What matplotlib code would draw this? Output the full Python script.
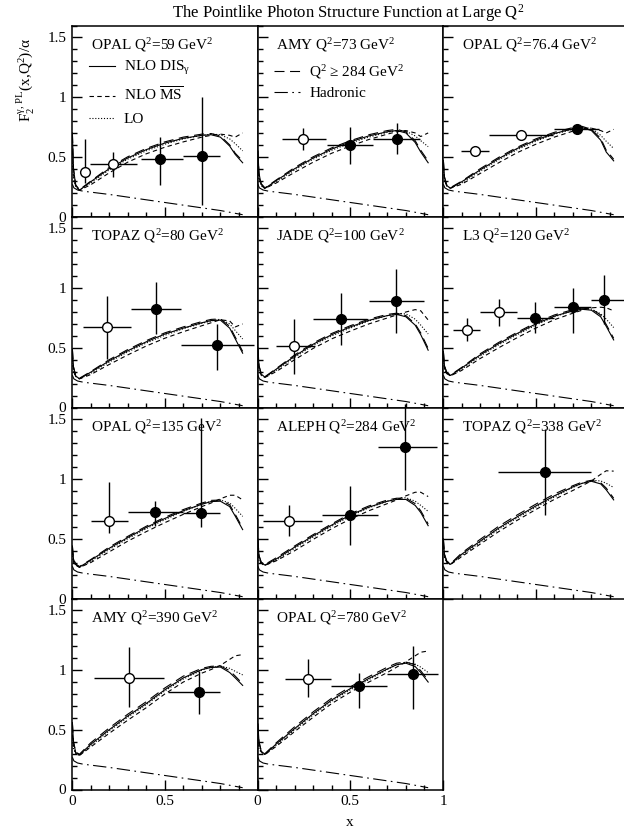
import matplotlib
matplotlib.use("Agg")
import matplotlib.pyplot as plt
from matplotlib.ticker import MultipleLocator, FuncFormatter
from matplotlib.lines import Line2D

plt.rcParams['font.family'] = ['Liberation Serif', 'DejaVu Serif']
plt.rcParams['mathtext.fontset'] = 'custom'
plt.rcParams['mathtext.rm'] = 'Liberation Serif'
plt.rcParams['mathtext.it'] = 'Liberation Serif:italic'
plt.rcParams['mathtext.bf'] = 'Liberation Serif:bold'
plt.rcParams['mathtext.default'] = 'regular'
plt.rcParams['font.size'] = 11

# panel labels
TITLES = ["OPAL Q$^2$=59 GeV$^2$", "AMY Q$^2$=73 GeV$^2$", "OPAL Q$^2$=76.4 GeV$^2$",
          "TOPAZ Q$^2$=80 GeV$^2$", "JADE Q$^2$=100 GeV$^2$", "L3 Q$^2$=120 GeV$^2$",
          "OPAL Q$^2$=135 GeV$^2$", "ALEPH Q$^2$=284 GeV$^2$", "TOPAZ Q$^2$=338 GeV$^2$",
          "AMY Q$^2$=390 GeV$^2$", "OPAL Q$^2$=780 GeV$^2$"]

# theory curves on a common x grid
XG = [0.002, 0.008, 0.02, 0.04, 0.1, 0.2, 0.3, 0.4, 0.5, 0.6, 0.7, 0.75, 0.8, 0.85, 0.88, 0.92]

NLO_DIS = [
    [0.70, 0.40, 0.26, 0.22, 0.29, 0.40, 0.49, 0.56, 0.615, 0.655, 0.68, 0.685, 0.665, 0.59, 0.52, 0.45],
    [0.55, 0.36, 0.27, 0.235, 0.30, 0.40, 0.49, 0.565, 0.625, 0.675, 0.71, 0.72, 0.70, 0.62, 0.54, 0.45],
    [0.47, 0.33, 0.26, 0.237, 0.29, 0.39, 0.485, 0.57, 0.64, 0.695, 0.735, 0.745, 0.72, 0.64, 0.54, 0.466],
    [0.49, 0.34, 0.265, 0.24, 0.295, 0.39, 0.475, 0.55, 0.615, 0.665, 0.71, 0.728, 0.732, 0.665, 0.575, 0.455],
    [0.50, 0.35, 0.28, 0.254, 0.32, 0.43, 0.53, 0.61, 0.675, 0.73, 0.77, 0.78, 0.76, 0.69, 0.61, 0.48],
    [0.47, 0.35, 0.29, 0.268, 0.33, 0.44, 0.535, 0.62, 0.70, 0.765, 0.81, 0.823, 0.815, 0.76, 0.68, 0.566],
    [0.44, 0.33, 0.285, 0.263, 0.32, 0.42, 0.51, 0.595, 0.67, 0.735, 0.79, 0.812, 0.815, 0.77, 0.69, 0.577],
    [0.50, 0.36, 0.30, 0.28, 0.33, 0.43, 0.525, 0.615, 0.70, 0.765, 0.815, 0.83, 0.83, 0.78, 0.72, 0.61],
    [0.50, 0.37, 0.31, 0.286, 0.37, 0.48, 0.59, 0.685, 0.775, 0.86, 0.935, 0.965, 0.982, 0.96, 0.91, 0.826],
    [0.56, 0.40, 0.31, 0.29, 0.377, 0.50, 0.615, 0.72, 0.835, 0.935, 1.005, 1.022, 1.026, 0.98, 0.935, 0.872],
    [0.55, 0.40, 0.32, 0.295, 0.38, 0.51, 0.635, 0.75, 0.845, 0.93, 1.01, 1.045, 1.058, 1.03, 0.98, 0.90],
]
NLO_MSBAR = [
    [0.55, 0.35, 0.25, 0.22, 0.265, 0.365, 0.455, 0.525, 0.58, 0.625, 0.665, 0.68, 0.69, 0.68, 0.665, 0.70],
    [0.45, 0.33, 0.26, 0.235, 0.28, 0.37, 0.455, 0.53, 0.59, 0.645, 0.69, 0.71, 0.72, 0.70, 0.67, 0.70],
    [0.42, 0.31, 0.255, 0.237, 0.27, 0.36, 0.45, 0.535, 0.605, 0.665, 0.715, 0.735, 0.74, 0.72, 0.70, 0.73],
    [0.42, 0.31, 0.26, 0.24, 0.275, 0.36, 0.44, 0.515, 0.58, 0.635, 0.685, 0.71, 0.735, 0.725, 0.675, 0.70],
    [0.43, 0.32, 0.27, 0.252, 0.30, 0.40, 0.495, 0.575, 0.64, 0.70, 0.75, 0.775, 0.80, 0.82, 0.81, 0.733],
    [0.42, 0.33, 0.285, 0.265, 0.31, 0.41, 0.50, 0.585, 0.665, 0.735, 0.79, 0.815, 0.835, 0.84, 0.835, 0.81],
    [0.40, 0.31, 0.28, 0.26, 0.30, 0.39, 0.48, 0.56, 0.635, 0.705, 0.77, 0.80, 0.835, 0.865, 0.865, 0.826],
    [0.44, 0.33, 0.295, 0.278, 0.315, 0.40, 0.495, 0.585, 0.665, 0.735, 0.795, 0.825, 0.86, 0.89, 0.89, 0.854],
    [0.45, 0.35, 0.305, 0.284, 0.35, 0.455, 0.56, 0.655, 0.745, 0.83, 0.905, 0.945, 0.985, 1.04, 1.07, 1.067],
    [0.46, 0.36, 0.305, 0.285, 0.355, 0.47, 0.58, 0.685, 0.80, 0.90, 0.975, 1.005, 1.04, 1.09, 1.12, 1.13],
    [0.46, 0.36, 0.315, 0.293, 0.36, 0.485, 0.605, 0.72, 0.815, 0.90, 0.98, 1.025, 1.07, 1.12, 1.15, 1.16],
]
LO = [
    [0.45, 0.32, 0.25, 0.22, 0.28, 0.39, 0.48, 0.55, 0.605, 0.65, 0.68, 0.69, 0.685, 0.65, 0.61, 0.55],
    [0.42, 0.31, 0.26, 0.235, 0.29, 0.39, 0.48, 0.555, 0.615, 0.665, 0.705, 0.72, 0.715, 0.675, 0.635, 0.585],
    [0.40, 0.30, 0.255, 0.237, 0.28, 0.38, 0.475, 0.56, 0.63, 0.69, 0.73, 0.745, 0.74, 0.68, 0.63, 0.57],
    [0.40, 0.30, 0.26, 0.24, 0.285, 0.38, 0.465, 0.54, 0.605, 0.66, 0.705, 0.725, 0.74, 0.70, 0.645, 0.574],
    [0.41, 0.31, 0.27, 0.252, 0.31, 0.42, 0.52, 0.60, 0.665, 0.725, 0.77, 0.785, 0.785, 0.74, 0.69, 0.616],
    [0.40, 0.32, 0.285, 0.265, 0.32, 0.43, 0.525, 0.61, 0.69, 0.76, 0.81, 0.825, 0.825, 0.785, 0.74, 0.67],
    [0.38, 0.30, 0.28, 0.26, 0.31, 0.41, 0.50, 0.585, 0.66, 0.73, 0.79, 0.815, 0.825, 0.80, 0.755, 0.688],
    [0.42, 0.32, 0.29, 0.278, 0.32, 0.42, 0.515, 0.605, 0.69, 0.76, 0.815, 0.835, 0.845, 0.815, 0.78, 0.73],
    [0.42, 0.34, 0.305, 0.284, 0.36, 0.47, 0.58, 0.675, 0.765, 0.85, 0.93, 0.965, 0.99, 0.985, 0.965, 0.93],
    [0.42, 0.34, 0.30, 0.285, 0.365, 0.49, 0.605, 0.71, 0.825, 0.925, 1.0, 1.025, 1.035, 1.015, 0.99, 0.96],
    [0.42, 0.34, 0.31, 0.293, 0.37, 0.50, 0.625, 0.74, 0.835, 0.92, 1.005, 1.045, 1.065, 1.05, 1.025, 0.98],
]
HIGH_Q2 = [
    [0.70, 0.40, 0.265, 0.225, 0.295, 0.41, 0.50, 0.57, 0.625, 0.665, 0.69, 0.695, 0.675, 0.60, 0.53, 0.465],
    [0.55, 0.36, 0.275, 0.24, 0.305, 0.41, 0.50, 0.575, 0.635, 0.685, 0.72, 0.73, 0.71, 0.635, 0.555, 0.465],
    [0.47, 0.33, 0.265, 0.242, 0.295, 0.40, 0.495, 0.58, 0.65, 0.705, 0.745, 0.755, 0.73, 0.655, 0.555, 0.48],
    [0.49, 0.34, 0.27, 0.245, 0.30, 0.40, 0.485, 0.56, 0.625, 0.675, 0.72, 0.738, 0.742, 0.68, 0.59, 0.47],
    [0.50, 0.35, 0.285, 0.258, 0.325, 0.44, 0.54, 0.62, 0.685, 0.74, 0.78, 0.79, 0.77, 0.70, 0.625, 0.495],
    [0.47, 0.35, 0.295, 0.272, 0.335, 0.45, 0.545, 0.63, 0.71, 0.775, 0.82, 0.832, 0.825, 0.775, 0.695, 0.58],
    [0.44, 0.33, 0.29, 0.268, 0.325, 0.43, 0.52, 0.605, 0.68, 0.745, 0.80, 0.822, 0.825, 0.785, 0.705, 0.59],
    [0.50, 0.36, 0.305, 0.285, 0.34, 0.44, 0.535, 0.625, 0.71, 0.775, 0.825, 0.84, 0.84, 0.795, 0.735, 0.625],
    [0.50, 0.37, 0.315, 0.29, 0.38, 0.495, 0.605, 0.70, 0.79, 0.875, 0.945, 0.975, 0.99, 0.97, 0.925, 0.84],
    [0.56, 0.40, 0.315, 0.295, 0.39, 0.515, 0.63, 0.735, 0.85, 0.95, 1.015, 1.032, 1.035, 0.995, 0.95, 0.885],
    [0.55, 0.40, 0.325, 0.30, 0.39, 0.525, 0.65, 0.765, 0.86, 0.945, 1.025, 1.058, 1.068, 1.045, 0.995, 0.915],
]
HAD_X = [0.002, 0.01, 0.03, 0.06, 0.2, 0.4, 0.6, 0.8, 0.92]
HAD_Y = [0.27, 0.24, 0.222, 0.212, 0.185, 0.14, 0.095, 0.05, 0.015]

# measurements: centre, x bin edges, y error ends, open (True) / filled
PT_X = [[0.072, 0.221, 0.473, 0.70], [0.247, 0.499, 0.75], [0.172, 0.422, 0.722],
        [0.19, 0.453, 0.78], [0.199, 0.448, 0.747], [0.128, 0.30, 0.498, 0.70, 0.868],
        [0.20, 0.449, 0.697], [0.172, 0.499, 0.797], [0.55], [0.309, 0.686],
        [0.274, 0.549, 0.84]]
PT_Y = [[0.371, 0.44, 0.48, 0.51], [0.647, 0.60, 0.647], [0.549, 0.683, 0.73],
        [0.672, 0.822, 0.52], [0.513, 0.741, 0.895], [0.652, 0.80, 0.75, 0.84, 0.90],
        [0.646, 0.724, 0.715], [0.646, 0.696, 1.27], [1.062], [0.936, 0.816],
        [0.927, 0.866, 0.969]]
PT_XLO = [[0.06, 0.099, 0.37, 0.60], [0.13, 0.376, 0.62], [0.099, 0.248, 0.60],
          [0.057, 0.32, 0.59], [0.10, 0.30, 0.60], [0.052, 0.20, 0.40, 0.60, 0.80],
          [0.10, 0.30, 0.60], [0.03, 0.346, 0.648], [0.298], [0.12, 0.52],
          [0.148, 0.396, 0.70]]
PT_XHI = [[0.085, 0.35, 0.60, 0.80], [0.37, 0.62, 0.876], [0.248, 0.595, 0.84],
          [0.316, 0.59, 0.98], [0.31, 0.59, 0.90], [0.20, 0.40, 0.60, 0.80, 1.0],
          [0.30, 0.60, 0.80], [0.346, 0.648, 0.966], [0.798], [0.498, 0.80],
          [0.395, 0.70, 0.975]]
PT_YLO = [[0.28, 0.33, 0.26, 0.10], [0.56, 0.44, 0.52], [0.535, 0.668, 0.71],
          [0.41, 0.616, 0.31], [0.28, 0.527, 0.62], [0.56, 0.686, 0.62, 0.62, 0.70],
          [0.55, 0.61, 0.60], [0.52, 0.45, 0.91], [0.70], [0.69, 0.63],
          [0.777, 0.684, 0.676]]
PT_YHI = [[0.65, 0.54, 0.67, 1.00], [0.74, 0.75, 0.78], [0.563, 0.698, 0.75],
          [0.93, 1.05, 0.70], [0.74, 0.956, 1.16], [0.75, 0.91, 0.88, 1.0, 1.11],
          [0.98, 0.82, 1.51], [0.78, 0.94, 1.63], [1.42], [1.19, 0.99],
          [1.095, 0.972, 1.20]]
PT_OPEN = [[True, True, False, False], [True, False, False], [True, True, False],
           [True, False, False], [True, False, False], [True, True, False, False, False],
           [True, False, False], [True, False, False], [False], [True, False],
           [True, False, False]]

# line styles
LS_DIS = '-'
LS_MS = (0, (4, 3))
LS_LO = (0, (1, 1.6))
LS_HQ = (0, (9, 5))
LS_HAD = (0, (12, 4, 1.5, 4))
LW = 0.8

W, H = 624, 833
fig = plt.figure(figsize=(W / 100, H / 100), dpi=100)

AX_LEFT, AX_W = 72, 185.5
AX_TOP, AX_H = 25.5, 191


def fmt_num(v, pos):
    return '%g' % v


def fmt_x_first(v, pos):
    if v > 0.9:
        return ''
    return '%g' % v


for i in range(len(TITLES)):
    row, col = divmod(i, 3)
    left = (AX_LEFT + col * AX_W) / W
    bottom = 1 - (AX_TOP + (row + 1) * AX_H) / H
    ax = fig.add_axes([left, bottom, AX_W / W, AX_H / H])
    ax.set_xlim(0, 1)
    ax.set_ylim(0, 1.6)

    ax.plot(HAD_X, HAD_Y, color='black', lw=LW, ls=LS_HAD)
    ax.plot(XG, LO[i], color='black', lw=LW, ls=LS_LO)
    ax.plot(XG, NLO_MSBAR[i], color='black', lw=LW, ls=LS_MS)
    ax.plot(XG, HIGH_Q2[i], color='black', lw=LW, ls=LS_HQ)
    ax.plot(XG, NLO_DIS[i], color='black', lw=LW, ls=LS_DIS)

    xs, ys = PT_X[i], PT_Y[i]
    xerr = [[x - lo for x, lo in zip(xs, PT_XLO[i])], [hi - x for x, hi in zip(xs, PT_XHI[i])]]
    yerr = [[y - lo for y, lo in zip(ys, PT_YLO[i])], [hi - y for y, hi in zip(ys, PT_YHI[i])]]
    eb = ax.errorbar(xs, ys, xerr=xerr, yerr=yerr, fmt='none', ecolor='black',
                     elinewidth=1.0, capsize=0, zorder=4)
    for coll in eb.lines[2]:
        coll.set_clip_on(False)
    for x, y, op in zip(xs, ys, PT_OPEN[i]):
        ax.plot([x], [y], 'o', ms=7, mew=1.0, mec='black',
                mfc='white' if op else 'black', zorder=5, clip_on=False)

    ax.text(0.10, 1.435, TITLES[i], ha='left', va='center', fontsize=11)

    ax.xaxis.set_major_locator(MultipleLocator(0.5))
    ax.xaxis.set_minor_locator(MultipleLocator(0.1))
    ax.yaxis.set_major_locator(MultipleLocator(0.5))
    ax.yaxis.set_minor_locator(MultipleLocator(0.1))
    ax.tick_params(which='both', direction='in', top=False, right=False, width=1.0,
                   labelsize=11, pad=4)
    ax.tick_params(which='major', length=7)
    ax.tick_params(which='minor', length=3.5)
    for sp in ax.spines.values():
        sp.set_linewidth(1.1)

    if col == 0:
        ax.yaxis.set_major_formatter(FuncFormatter(fmt_num))
    else:
        ax.set_yticklabels([])
    if row == 3:
        ax.xaxis.set_major_formatter(FuncFormatter(fmt_x_first if col == 0 else fmt_num))
    else:
        ax.set_xticklabels([])

    if i == 0:
        handles = [Line2D([], [], color='black', lw=LW, ls=LS_DIS),
                   Line2D([], [], color='black', lw=LW, ls=LS_MS),
                   Line2D([], [], color='black', lw=LW, ls=LS_LO)]
        labels = [r'NLO DIS$_\gamma$', r'NLO $\overline{\rm MS}$', 'LO']
        ax.legend(handles, labels, loc='upper left', bbox_to_anchor=(0.09, 0.822),
                  frameon=False, handlelength=1.7, handletextpad=0.6,
                  labelspacing=0.55, borderpad=0, borderaxespad=0, fontsize=11)
    if i == 1:
        handles = [Line2D([], [], color='black', lw=LW, ls=LS_HQ),
                   Line2D([], [], color='black', lw=LW, ls=LS_HAD)]
        labels = ['Q$^2$ \u2265 284 GeV$^2$', 'Hadronic']
        ax.legend(handles, labels, loc='upper left', bbox_to_anchor=(0.09, 0.805),
                  frameon=False, handlelength=1.7, handletextpad=0.6,
                  labelspacing=0.4, borderpad=0, borderaxespad=0, fontsize=11)

fig.text(348 / W, 1 - 13 / H, 'The Pointlike Photon Structure Function at Large Q$^2$',
         ha='center', va='center', fontsize=12)
fig.text(25 / W, 1 - 80 / H, r'F$_2^{\gamma,\,\rm PL}$(x,Q$^2$)/$\alpha$',
         rotation=90, ha='center', va='center', fontsize=11)
fig.text(350 / W, 1 - 822 / H, 'x', ha='center', va='center', fontsize=11)

fig.savefig('out.png', dpi=100)
